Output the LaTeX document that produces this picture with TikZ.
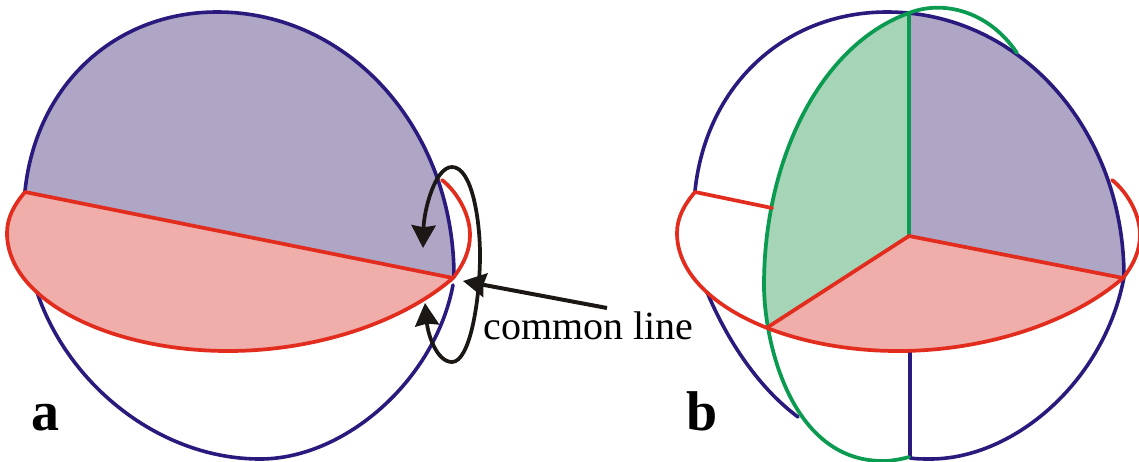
\documentclass[tikz,border=0pt]{standalone}
\usepackage{fontspec}
\setmainfont{Liberation Serif}
\usetikzlibrary{arrows.meta}
\definecolor{cblue}{HTML}{2B1A7E}
\definecolor{cred}{HTML}{E22C1E}
\definecolor{cgreen}{HTML}{0A9A50}
\definecolor{fpurple}{HTML}{AEA6C4}
\definecolor{fpink}{HTML}{EFAEAA}
\definecolor{fgreen}{HTML}{A5D4B6}
\definecolor{cblack}{HTML}{1A1715}
\tikzset{
  bluel/.style={draw=cblue,line width=2.7pt,line cap=round},
  redl/.style={draw=cred,line width=2.8pt,line cap=round,line join=round},
  greenl/.style={draw=cgreen,line width=2.8pt,line cap=round},
  blackl/.style={draw=cblack,line width=2.8pt},
  lbl/.style={inner sep=0pt,anchor=base west,text=black}
}
\begin{document}
\begin{tikzpicture}[x=0.75pt,y=-0.75pt]
\useasboundingbox (0,0) rectangle (1139,461);
% ===== panel a =====
\fill[fpurple] (25,191) .. controls (36,85) and (115,12) .. (217,12) .. controls (350,12) and (454,130) .. (454,277) -- cycle;
\fill[fpink] (25,192) -- (453,278) .. controls (405,320) and (320,351) .. (228,351) .. controls (110,351) and (7,300) .. (7,233) .. controls (7,218) and (14,205) .. (25,192) -- cycle;
\draw[bluel] (25,191) .. controls (36,85) and (115,12) .. (217,12) .. controls (350,12) and (454,130) .. (454,277);
\draw[bluel] (37,292) .. controls (68,385) and (160,459) .. (260,459) .. controls (345,459) and (435,380) .. (453,285);
\draw[redl] (25,192) -- (453,278);
\draw[redl] (442,180) .. controls (455,190) and (470,212) .. (470,235) .. controls (470,250) and (464,264) .. (453,278) .. controls (405,320) and (320,351) .. (228,351) .. controls (110,351) and (7,300) .. (7,233) .. controls (7,218) and (14,205) .. (25,192);
% arrows and labels of panel a
\coordinate (loopA) at (423,248);
\coordinate (loopB) at (425,303);
\coordinate (loopT) at (452,167);
\coordinate (loopM) at (480,255);
\coordinate (loopD) at (452,362);
\draw[blackl,{Stealth[length=17pt,width=18pt,inset=1.5pt]}-{Stealth[length=17pt,width=18pt,inset=1.5pt]}] (loopA) .. controls (424,210) and (435,167) .. (loopT) .. controls (472,167) and (480,220) .. (loopM) .. controls (480,300) and (470,362) .. (loopD) .. controls (437,362) and (428,335) .. (loopB);
\node[lbl,font=\fontsize{30pt}{30pt}\selectfont] (common) at (483,339) {common line};
\coordinate (tail) at (607,308);
\coordinate (tip) at (463,281);
\draw[blackl,line width=3pt,-{Stealth[length=17pt,width=18pt,inset=1.5pt]}] (tail) -- (tip);
\node[lbl,font=\bfseries\fontsize{42pt}{42pt}\selectfont] (la) at (31,430) {a};
% ===== panel b =====
\begin{scope}[xshift=502.5pt]
\fill[fpurple] (239,13) -- (239,235) -- (454,277) .. controls (454,130) and (350,12) .. (217,12) -- cycle;
\fill[white] (239,0) rectangle (200,13);
\fill[fpink] (239,235) -- (453,278) .. controls (405,320) and (320,351) .. (228,351) .. controls (180,351) and (135,343) .. (98,327) -- cycle;
\fill[fgreen] (239,13) .. controls (150,45) and (94,160) .. (94,285) .. controls (94,300) and (95,315) .. (98,327) -- (239,235) -- cycle;
\draw[bluel] (25,191) .. controls (36,85) and (115,12) .. (217,12) .. controls (350,12) and (454,130) .. (454,277);
\draw[bluel] (37,292) .. controls (55,335) and (85,385) .. (128,417);
\draw[bluel] (240,458) .. controls (247,459) and (253,459) .. (260,459) .. controls (345,459) and (435,380) .. (454,277);
\draw[bluel] (240,352) -- (240,457);
\draw[greenl] (347,53) .. controls (318,10) and (272,0) .. (239,13) .. controls (150,45) and (94,160) .. (94,285) .. controls (94,340) and (120,461) .. (213,461) .. controls (222,461) and (232,459) .. (239,457);
\draw[greenl] (239,13) -- (239,234);
\draw[redl] (25,192) -- (102,208);
\draw[redl] (98,327) -- (239,236) -- (453,278);
\draw[redl] (442,180) .. controls (455,190) and (470,212) .. (470,235) .. controls (470,250) and (464,264) .. (453,278) .. controls (405,320) and (320,351) .. (228,351) .. controls (110,351) and (7,300) .. (7,233) .. controls (7,218) and (14,205) .. (25,192);
\end{scope}
\node[lbl,font=\bfseries\fontsize{42pt}{42pt}\selectfont] (lb) at (686,430) {b};
\end{tikzpicture}
\end{document}
